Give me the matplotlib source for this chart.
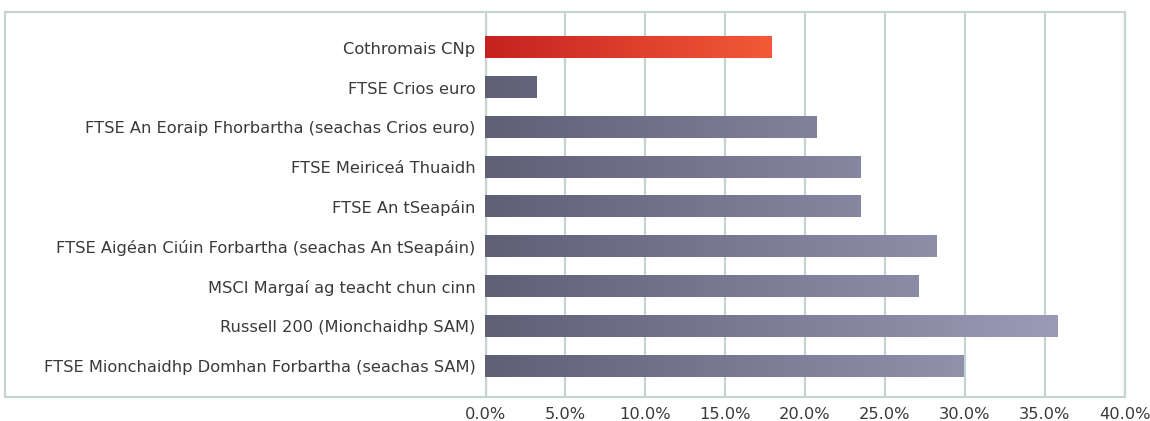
import matplotlib.pyplot as plt
import numpy as np
from matplotlib.colors import LinearSegmentedColormap
from matplotlib.patches import Rectangle

categories = [
    "Cothromais CNp",
    "FTSE Crios euro",
    "FTSE An Eoraip Fhorbartha (seachas Crios euro)",
    "FTSE Meiriceá Thuaidh",
    "FTSE An tSeapáin",
    "FTSE Aigéan Ciúin Forbartha (seachas An tSeapáin)",
    "MSCI Margaí ag teacht chun cinn",
    "Russell 200 (Mionchaidhp SAM)",
    "FTSE Mionchaidhp Domhan Forbartha (seachas SAM)",
]
values = [17.9, 3.2, 20.7, 23.5, 23.5, 28.2, 27.1, 35.8, 29.9]
ticks = [0, 5, 10, 15, 20, 25, 30, 35, 40]

plt.rcParams['font.family'] = ['DejaVu Sans']

W, H = 1150, 421
fig = plt.figure(figsize=(W / 100, H / 100), dpi=100)
ax = fig.add_axes([485 / W, 1 - 397 / H, (1125 - 485) / W, (397 - 12) / H])

grid_col = "#c5d3d3"
# outer frame
fig.patches.append(Rectangle((5 / W, 1 - 397 / H), (1125 - 5) / W, (397 - 12) / H,
                             transform=fig.transFigure, fill=False,
                             edgecolor=grid_col, linewidth=1.6, zorder=0))

grey = LinearSegmentedColormap.from_list("g", ["#5f5f76", "#9b9bb7"])
red = LinearSegmentedColormap.from_list("r", ["#c52220", "#f25a37"])

h = 0.53
for i, v in enumerate(values):
    if i == 0:
        grad = np.linspace(0, 1, 256)[None, :]
        cmap = red
    else:
        grad = np.linspace(0, v / 36.0, 256)[None, :]
        cmap = grey
    ax.imshow(grad, cmap=cmap, vmin=0, vmax=1, aspect='auto',
              extent=[0, v, i + h / 2, i - h / 2], zorder=3, interpolation='bilinear')

ax.set_xlim(0, 40)
ax.set_ylim(len(values) - 1 + 0.78, -0.9)
ax.set_xticks(ticks)
ax.set_xticklabels([f"{t:.1f}%" for t in ticks])
ax.set_yticks(range(len(categories)))
ax.set_yticklabels(categories)
ax.tick_params(axis='both', length=0, labelsize=11.7, colors="#3a3a3a")
ax.tick_params(axis='y', pad=7)
ax.tick_params(axis='x', pad=7)
for s in ax.spines.values():
    s.set_visible(False)
ax.grid(axis='x', color=grid_col, linewidth=1.6, zorder=0)
ax.set_axisbelow(True)
ax.axvline(0, color=grid_col, linewidth=2.4, zorder=1)

fig.savefig("out.png", dpi=100)
